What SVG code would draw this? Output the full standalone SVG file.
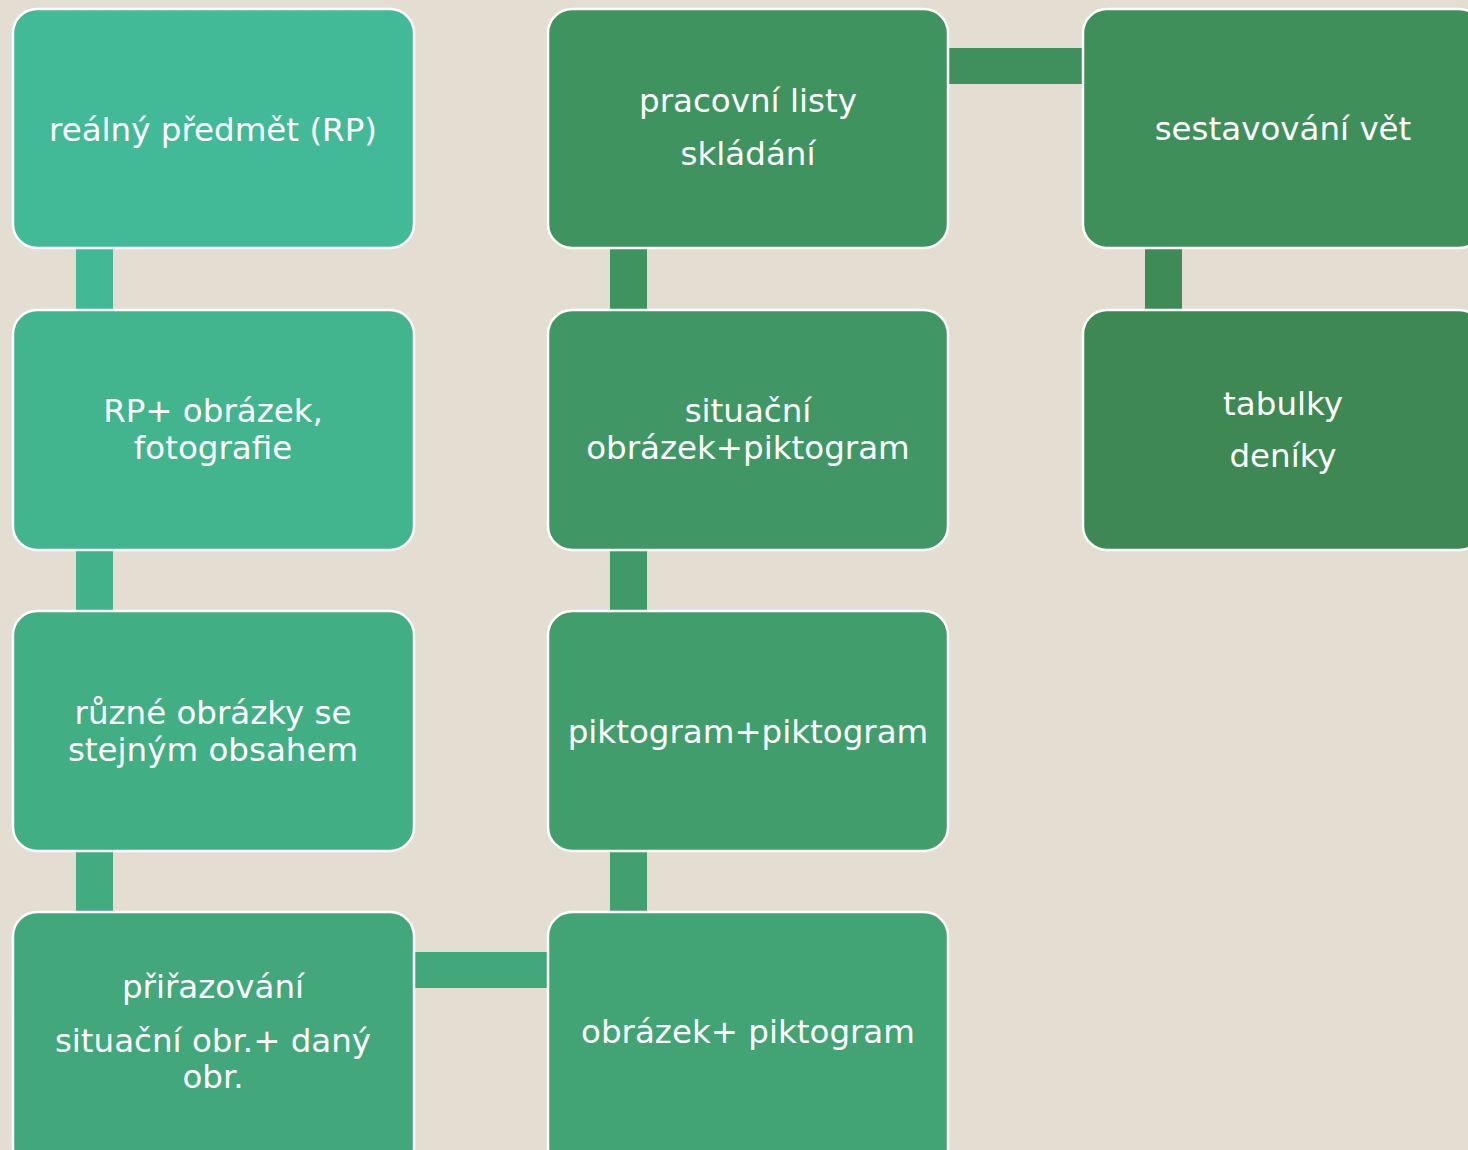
<svg xmlns="http://www.w3.org/2000/svg" width="1468" height="1150" viewBox="0 0 1468 1150">
<style>
.n{stroke:#ffffff;stroke-width:2.5}
.t{font-family:"DejaVu Sans",sans-serif;font-size:32.5px;fill:#ffffff;text-anchor:middle}
</style>
<rect x="0" y="0" width="1468" height="1150" fill="#E4DDD2"/>
<g id="connectors">
<rect x="76" y="248" width="37" height="62" fill="#43B894"/>
<rect x="76" y="550" width="37" height="61" fill="#42B28A"/>
<rect x="76" y="851" width="37" height="61" fill="#42AB80"/>
<rect x="414" y="952" width="134" height="36" fill="#42A87B"/>
<rect x="610" y="851" width="37" height="61" fill="#42A070"/>
<rect x="610" y="550" width="37" height="61" fill="#409968"/>
<rect x="610" y="248" width="37" height="62" fill="#3F935F"/>
<rect x="948" y="48" width="135" height="36" fill="#3F905C"/>
<rect x="1145" y="248" width="37" height="62" fill="#3E8B57"/>
</g>
<g id="n1"><rect class="n" x="13" y="9" width="401" height="239" rx="24" fill="#43BA97"/><text class="t" x="213" y="141">reálný předmět (RP)</text></g>
<g id="n2"><rect class="n" x="13" y="310" width="401" height="240" rx="24" fill="#42B58F"/><text class="t" x="213" y="422">RP+ obrázek,</text><text class="t" x="213" y="459">fotografie</text></g>
<g id="n3"><rect class="n" x="13" y="611" width="401" height="240" rx="24" fill="#42AE84"/><text class="t" x="213" y="724">různé obrázky se</text><text class="t" x="213" y="761">stejným obsahem</text></g>
<g id="n4"><rect class="n" x="13" y="912" width="401" height="260" rx="24" fill="#42A87B"/><text class="t" x="213" y="998">přiřazování</text><text class="t" x="213" y="1052">situační obr.+ daný</text><text class="t" x="213" y="1088">obr.</text></g>
<g id="n5"><rect class="n" x="548" y="912" width="400" height="260" rx="24" fill="#42A374"/><text class="t" x="748" y="1043">obrázek+ piktogram</text></g>
<g id="n6"><rect class="n" x="548" y="611" width="400" height="240" rx="24" fill="#419E6C"/><text class="t" x="748" y="743">piktogram+piktogram</text></g>
<g id="n7"><rect class="n" x="548" y="310" width="400" height="240" rx="24" fill="#409765"/><text class="t" x="748" y="422">situační</text><text class="t" x="748" y="459">obrázek+piktogram</text></g>
<g id="n8"><rect class="n" x="548" y="9" width="400" height="239" rx="24" fill="#3F935F"/><text class="t" x="748" y="112">pracovní listy</text><text class="t" x="748" y="165">skládání</text></g>
<g id="n9"><rect class="n" x="1083" y="9" width="400" height="239" rx="24" fill="#3F8F5B"/><text class="t" x="1283" y="140">sestavování vět</text></g>
<g id="n10"><rect class="n" x="1083" y="310" width="400" height="240" rx="24" fill="#3E8953"/><text class="t" x="1283" y="415">tabulky</text><text class="t" x="1283" y="467">deníky</text></g>
</svg>
